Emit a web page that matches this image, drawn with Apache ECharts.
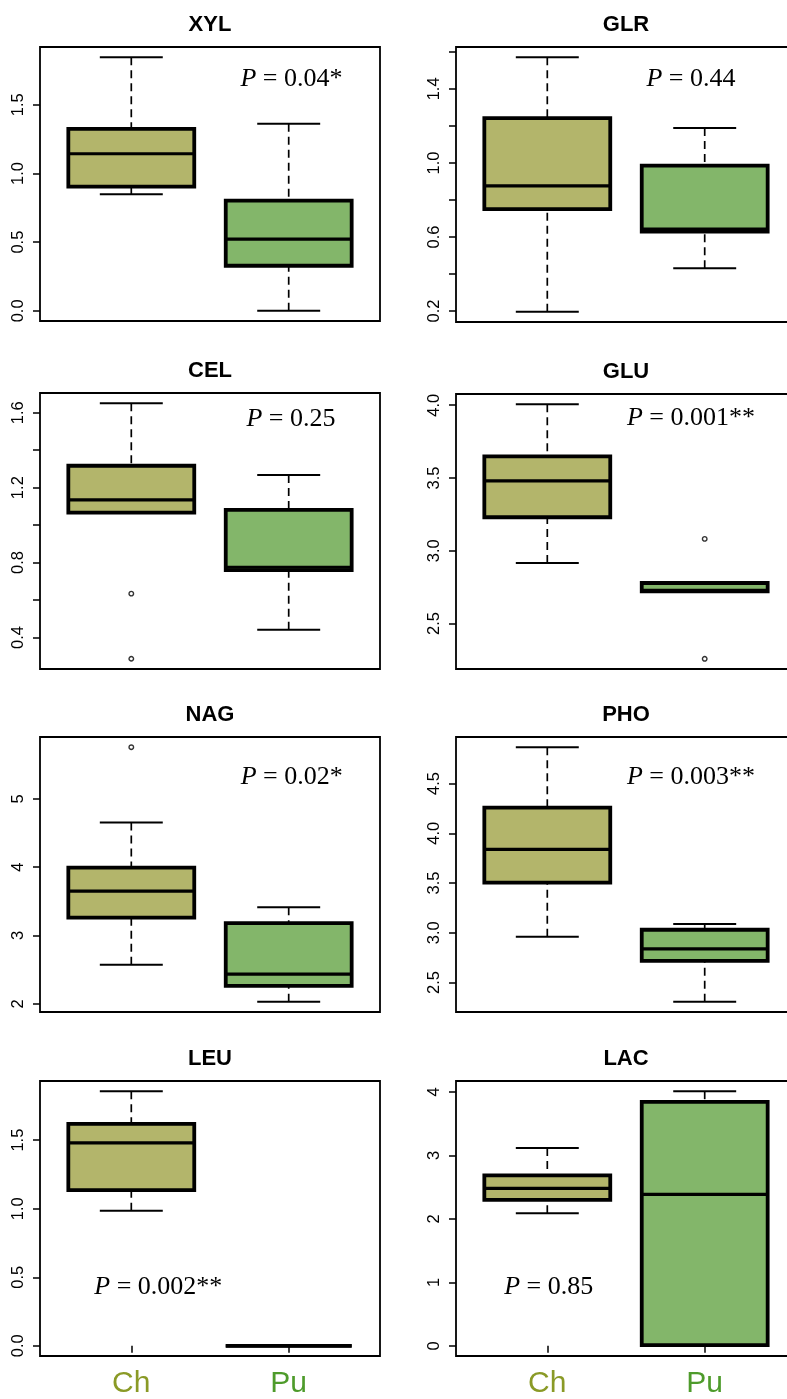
<!DOCTYPE html>
<html>
<head>
<meta charset="utf-8">
<script src="https://cdn.jsdelivr.net/npm/echarts@6/dist/echarts.min.js"></script>
<style>
html,body{margin:0;padding:0;background:#fff;}
#c{width:787px;height:1399px;}
</style>
</head>
<body>
<div id="c"></div>
<script>
// ---------------- DATA ----------------
const groups = ['Ch', 'Pu'];
const panelNames = ['XYL', 'GLR', 'CEL', 'GLU', 'NAG', 'PHO', 'LEU', 'LAC'];

// five-number summaries: [lower whisker, Q1, median, Q3, upper whisker]
const xylCh = [0.848, 0.904, 1.143, 1.324, 1.846];
const xylPu = [0.000, 0.328, 0.522, 0.802, 1.362];
const glrCh = [0.196, 0.751, 0.876, 1.242, 1.571];
const glrPu = [0.431, 0.629, 0.643, 0.985, 1.188];
const celCh = [1.067, 1.067, 1.135, 1.317, 1.651];
const celPu = [0.441, 0.759, 0.775, 1.081, 1.267];
const gluCh = [2.916, 3.230, 3.480, 3.649, 4.007];
const gluPu = [2.720, 2.720, 2.728, 2.778, 2.778];
const nagCh = [2.571, 3.263, 3.649, 3.995, 4.653];
const nagPu = [2.029, 2.263, 2.435, 3.181, 3.415];
const phoCh = [2.959, 3.503, 3.839, 4.258, 4.866];
const phoPu = [2.305, 2.717, 2.838, 3.030, 3.087];
const leuCh = [0.985, 1.136, 1.480, 1.618, 1.857];
const leuPu = [0.000, 0.000, 0.000, 0.000, 0.000];
const lacCh = [2.089, 2.300, 2.479, 2.684, 3.116];
const lacPu = [0.000, 0.011, 2.384, 3.842, 4.011];

// outliers: [group index (1 = Ch, 2 = Pu), value]
const xylOut = [];
const glrOut = [];
const celOut = [[1, 0.634], [1, 0.286]];
const gluOut = [[2, 3.081], [2, 2.257]];
const nagOut = [[1, 5.757]];
const phoOut = [];
const leuOut = [];
const lacOut = [];

// p-value annotations
const pValues = ['0.04*', '0.44', '0.25', '0.001**', '0.02*', '0.003**', '0.002**', '0.85'];

// y-axis ticks and labelled ticks
const xylTicks = [0, 0.5, 1.0, 1.5];            const xylLabels = [0, 0.5, 1.0, 1.5];
const glrTicks = [0.2, 0.4, 0.6, 0.8, 1.0, 1.2, 1.4, 1.6]; const glrLabels = [0.2, 0.6, 1.0, 1.4];
const celTicks = [0.4, 0.6, 0.8, 1.0, 1.2, 1.4, 1.6];      const celLabels = [0.4, 0.8, 1.2, 1.6];
const gluTicks = [2.5, 3.0, 3.5, 4.0];          const gluLabels = [2.5, 3.0, 3.5, 4.0];
const nagTicks = [2, 3, 4, 5];                  const nagLabels = [2, 3, 4, 5];
const phoTicks = [2.5, 3.0, 3.5, 4.0, 4.5];     const phoLabels = [2.5, 3.0, 3.5, 4.0, 4.5];
const leuTicks = [0, 0.5, 1.0, 1.5];            const leuLabels = [0, 0.5, 1.0, 1.5];
const lacTicks = [0, 1, 2, 3, 4];               const lacLabels = [0, 1, 2, 3, 4];
const labelDecimals = [1, 1, 1, 1, 0, 1, 1, 0];

// ---------------- STYLE / LAYOUT ----------------
const boxFill = ['#b3b56b', '#83b66a'];
const groupTextColor = ['#8a9a26', '#4e9b2b'];
const colLeft = [40, 456];
const plotW = 340;
const rowTops = [[47, 47], [393, 394], [737, 737], [1081, 1081]];
const rowHeights = [[274, 275], [276, 275], [275, 275], [275, 275]];
const pPos = [[291.5, 79], [691, 79], [291, 419.5], [691, 418.5], [291.7, 777.5], [691, 777.5], [158.3, 1287.5], [548.7, 1287.5]];

const summaries = [[xylCh, xylPu], [glrCh, glrPu], [celCh, celPu], [gluCh, gluPu], [nagCh, nagPu], [phoCh, phoPu], [leuCh, leuPu], [lacCh, lacPu]];
const outliers = [xylOut, glrOut, celOut, gluOut, nagOut, phoOut, leuOut, lacOut];
const ticks = [xylTicks, glrTicks, celTicks, gluTicks, nagTicks, phoTicks, leuTicks, lacTicks];
const labels = [xylLabels, glrLabels, celLabels, gluLabels, nagLabels, phoLabels, leuLabels, lacLabels];

function renderBox(params, api) {
  const x = api.value(0);
  const lo = api.value(1), q1 = api.value(2), med = api.value(3), q3 = api.value(4), hi = api.value(5);
  const half = api.size([0.4, 0])[0];
  const capHalf = api.size([0.2, 0])[0];
  const pLo = api.coord([x, lo]);
  const pQ1 = api.coord([x, q1]);
  const pMed = api.coord([x, med]);
  const pQ3 = api.coord([x, q3]);
  const pHi = api.coord([x, hi]);
  const cx = pLo[0];
  const dash = { stroke: '#000', lineWidth: 1.7, lineDash: [8, 5] };
  const solid = { stroke: '#000', lineWidth: 2 };
  return {
    type: 'group',
    children: [
      { type: 'line', shape: { x1: cx, y1: pHi[1], x2: cx, y2: pQ3[1] }, style: dash },
      { type: 'line', shape: { x1: cx, y1: pLo[1], x2: cx, y2: pQ1[1] }, style: dash },
      { type: 'line', shape: { x1: cx - capHalf, y1: pHi[1], x2: cx + capHalf, y2: pHi[1] }, style: solid },
      { type: 'line', shape: { x1: cx - capHalf, y1: pLo[1], x2: cx + capHalf, y2: pLo[1] }, style: solid },
      { type: 'rect', shape: { x: cx - half, y: pQ3[1], width: 2 * half, height: pQ1[1] - pQ3[1] },
        style: { fill: boxFill[params.dataIndex], stroke: '#000', lineWidth: 3.8 } },
      { type: 'line', shape: { x1: cx - half, y1: pMed[1], x2: cx + half, y2: pMed[1] },
        style: { stroke: '#000', lineWidth: 3.2 } }
    ]
  };
}

const grids = [], xAxes = [], yAxes = [], series = [], graphics = [];
panelNames.forEach(function (name, i) {
  const col = i % 2, row = Math.floor(i / 2);
  const isBottom = row === 3;
  const top = rowTops[row][col], h = rowHeights[row][col];
  grids.push({ left: colLeft[col], top: top, width: plotW, height: h, show: true,
    borderColor: '#000', borderWidth: 1.8, backgroundColor: 'transparent',
    containLabel: false, outerBoundsMode: 'none' });

  // y range: data range + 4% each side (R default)
  let all = summaries[i][0].concat(summaries[i][1]).concat(outliers[i].map(function (o) { return o[1]; }));
  const dmin = Math.min.apply(null, all), dmax = Math.max.apply(null, all);
  const pad = (dmax - dmin) * 0.04;
  const dec = labelDecimals[i];

  xAxes.push({
    type: 'value', gridIndex: i, min: 0.42, max: 2.58,
    axisLine: { show: false }, splitLine: { show: false },
    axisTick: { show: isBottom, customValues: [1, 2], length: 7, lineStyle: { color: '#000', width: 1.5 } },
    axisLabel: {
      show: isBottom, customValues: [1, 2], margin: 13,
      formatter: function (v) { const k = Math.round(v) - 1; return '{g' + k + '|' + groups[k] + '}'; },
      rich: {
        g0: { color: groupTextColor[0], fontSize: 30, fontFamily: 'Liberation Sans' },
        g1: { color: groupTextColor[1], fontSize: 30, fontFamily: 'Liberation Sans' }
      }
    }
  });
  yAxes.push({
    type: 'value', gridIndex: i, min: dmin - pad, max: dmax + pad,
    axisLine: { show: false }, splitLine: { show: false },
    axisTick: { show: true, customValues: ticks[i], length: 7, lineStyle: { color: '#000', width: 1.5 } },
    axisLabel: {
      show: true, customValues: labels[i], rotate: 90, margin: 13,
      fontSize: 16.5, fontFamily: 'Liberation Sans', color: '#000',
      formatter: function (v) { return Number(v).toFixed(dec); }
    }
  });

  series.push({
    type: 'custom', xAxisIndex: i, yAxisIndex: i,
    renderItem: renderBox,
    encode: { x: 0, y: [1, 2, 3, 4, 5] },
    data: [[1].concat(summaries[i][0]), [2].concat(summaries[i][1])],
    silent: true, z: 2
  });
  if (outliers[i].length) {
    series.push({
      type: 'scatter', xAxisIndex: i, yAxisIndex: i,
      symbol: 'circle', symbolSize: 4.5,
      itemStyle: { color: '#fff', borderColor: '#000', borderWidth: 1.4 },
      data: outliers[i], silent: true, z: 3
    });
  }

  graphics.push({
    type: 'text', x: colLeft[col] + plotW / 2, y: top - 22.5,
    style: { text: name, align: 'center', verticalAlign: 'middle',
      font: 'bold 22px "Liberation Sans"', fill: '#000' }
  });
  graphics.push({
    type: 'text', x: pPos[i][0], y: pPos[i][1],
    style: {
      text: '{i|P} = ' + pValues[i], align: 'center', verticalAlign: 'middle',
      fill: '#000', fontSize: 26, fontFamily: 'Liberation Serif',
      rich: { i: { fontStyle: 'italic', fontSize: 26, fontFamily: 'Liberation Serif', fill: '#000' } }
    }
  });
});

const chart = echarts.init(document.getElementById('c'), null, { renderer: 'canvas', width: 787, height: 1399 });
chart.setOption({
  animation: false,
  backgroundColor: '#fff',
  grid: grids,
  xAxis: xAxes,
  yAxis: yAxes,
  series: series,
  graphic: graphics
});
</script>
</body>
</html>
